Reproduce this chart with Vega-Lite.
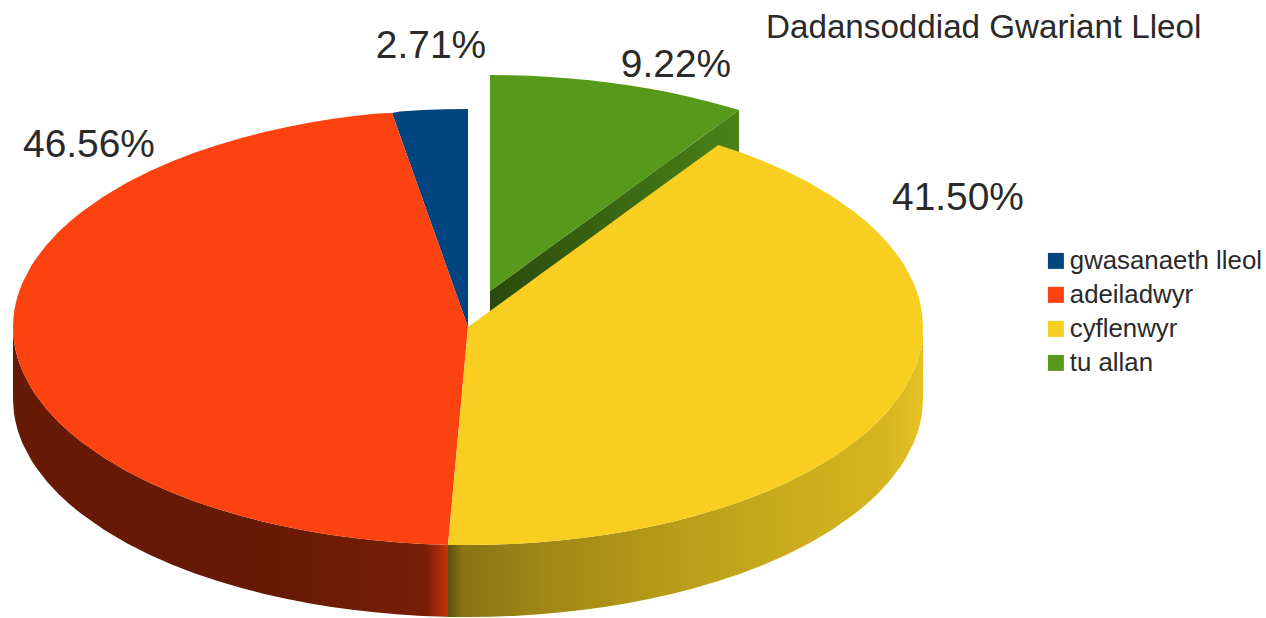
{
"$schema":"https://vega.github.io/schema/vega-lite/v6.json",
"width":1266,"height":618,"padding":0,"autosize":{"type":"none"},
"background":"white",
"title":{"text":"Dadansoddiad Gwariant Lleol","anchor":"start","frame":"group","dx":766,"dy":49,"fontSize":33.2,"fontWeight":"normal","font":"Liberation Sans","color":"#2a2a2a"},
"config":{"view":{"stroke":null}},
"datasets":{
"pie":[
{"slice":"adeiladwyr","part":"side","x":13,"y":327,"y2":399},
{"slice":"adeiladwyr","part":"side","x":13.9,"y":340.8,"y2":412.8},
{"slice":"adeiladwyr","part":"side","x":15.3,"y":348.8,"y2":420.8},
{"slice":"adeiladwyr","part":"side","x":17.5,"y":357.7,"y2":429.7},
{"slice":"adeiladwyr","part":"side","x":22.1,"y":370.4,"y2":442.4},
{"slice":"adeiladwyr","part":"side","x":31.2,"y":388,"y2":460},
{"slice":"adeiladwyr","part":"side","x":35.75,"y":395.1,"y2":467.1},
{"slice":"adeiladwyr","part":"side","x":47.1,"y":409.8,"y2":481.8},
{"slice":"adeiladwyr","part":"side","x":58.5,"y":422,"y2":494},
{"slice":"adeiladwyr","part":"side","x":69.9,"y":432.6,"y2":504.6},
{"slice":"adeiladwyr","part":"side","x":81.25,"y":441.8,"y2":513.8},
{"slice":"adeiladwyr","part":"side","x":104,"y":457.8,"y2":529.8},
{"slice":"adeiladwyr","part":"side","x":126.75,"y":471.2,"y2":543.2},
{"slice":"adeiladwyr","part":"side","x":149.5,"y":482.7,"y2":554.7},
{"slice":"adeiladwyr","part":"side","x":172.25,"y":492.7,"y2":564.7},
{"slice":"adeiladwyr","part":"side","x":195,"y":501.4,"y2":573.4},
{"slice":"adeiladwyr","part":"side","x":217.75,"y":509.1,"y2":581.1},
{"slice":"adeiladwyr","part":"side","x":240.5,"y":515.8,"y2":587.8},
{"slice":"adeiladwyr","part":"side","x":263.25,"y":521.7,"y2":593.7},
{"slice":"adeiladwyr","part":"side","x":286,"y":526.8,"y2":598.8},
{"slice":"adeiladwyr","part":"side","x":308.75,"y":531.2,"y2":603.2},
{"slice":"adeiladwyr","part":"side","x":331.5,"y":535,"y2":607},
{"slice":"adeiladwyr","part":"side","x":354.25,"y":538.1,"y2":610.1},
{"slice":"adeiladwyr","part":"side","x":377,"y":540.6,"y2":612.6},
{"slice":"adeiladwyr","part":"side","x":399.75,"y":542.5,"y2":614.5},
{"slice":"adeiladwyr","part":"side","x":422.5,"y":543.9,"y2":615.9},
{"slice":"adeiladwyr","part":"side","x":445.25,"y":544.7,"y2":616.7},
{"slice":"adeiladwyr","part":"side","x":448,"y":545,"y2":617},
{"slice":"cyflenwyr","part":"side","x":448,"y":545,"y2":617},
{"slice":"cyflenwyr","part":"side","x":468,"y":545,"y2":617},
{"slice":"cyflenwyr","part":"side","x":490.75,"y":544.7,"y2":616.7},
{"slice":"cyflenwyr","part":"side","x":513.5,"y":543.9,"y2":615.9},
{"slice":"cyflenwyr","part":"side","x":536.25,"y":542.5,"y2":614.5},
{"slice":"cyflenwyr","part":"side","x":559,"y":540.6,"y2":612.6},
{"slice":"cyflenwyr","part":"side","x":581.75,"y":538.1,"y2":610.1},
{"slice":"cyflenwyr","part":"side","x":604.5,"y":535,"y2":607},
{"slice":"cyflenwyr","part":"side","x":627.25,"y":531.2,"y2":603.2},
{"slice":"cyflenwyr","part":"side","x":650,"y":526.8,"y2":598.8},
{"slice":"cyflenwyr","part":"side","x":672.75,"y":521.7,"y2":593.7},
{"slice":"cyflenwyr","part":"side","x":695.5,"y":515.8,"y2":587.8},
{"slice":"cyflenwyr","part":"side","x":718.25,"y":509.1,"y2":581.1},
{"slice":"cyflenwyr","part":"side","x":741,"y":501.4,"y2":573.4},
{"slice":"cyflenwyr","part":"side","x":763.75,"y":492.7,"y2":564.7},
{"slice":"cyflenwyr","part":"side","x":786.5,"y":482.7,"y2":554.7},
{"slice":"cyflenwyr","part":"side","x":809.25,"y":471.2,"y2":543.2},
{"slice":"cyflenwyr","part":"side","x":832,"y":457.8,"y2":529.8},
{"slice":"cyflenwyr","part":"side","x":854.75,"y":441.8,"y2":513.8},
{"slice":"cyflenwyr","part":"side","x":866.1,"y":432.6,"y2":504.6},
{"slice":"cyflenwyr","part":"side","x":877.5,"y":422,"y2":494},
{"slice":"cyflenwyr","part":"side","x":888.9,"y":409.8,"y2":481.8},
{"slice":"cyflenwyr","part":"side","x":900.25,"y":395.1,"y2":467.1},
{"slice":"cyflenwyr","part":"side","x":904.8,"y":388,"y2":460},
{"slice":"cyflenwyr","part":"side","x":913.9,"y":370.4,"y2":442.4},
{"slice":"cyflenwyr","part":"side","x":918.5,"y":357.7,"y2":429.7},
{"slice":"cyflenwyr","part":"side","x":920.7,"y":348.8,"y2":420.8},
{"slice":"cyflenwyr","part":"side","x":922.1,"y":340.8,"y2":412.8},
{"slice":"cyflenwyr","part":"side","x":923,"y":327,"y2":399},
{"slice":"tu allan","part":"face","x":490,"y":291,"y2":363},
{"slice":"tu allan","part":"face","x":739,"y":110,"y2":182},
{"slice":"gwasanaeth lleol","part":"top","x":392,"y":113,"y2":113},
{"slice":"gwasanaeth lleol","part":"top","x":399.75,"y":111.5,"y2":134.8},
{"slice":"gwasanaeth lleol","part":"top","x":422.5,"y":110.1,"y2":198.9},
{"slice":"gwasanaeth lleol","part":"top","x":445.25,"y":109.3,"y2":262.9},
{"slice":"gwasanaeth lleol","part":"top","x":468,"y":109,"y2":327},
{"slice":"adeiladwyr","part":"top","x":13,"y":327,"y2":327},
{"slice":"adeiladwyr","part":"top","x":13.9,"y":313.2,"y2":340.8},
{"slice":"adeiladwyr","part":"top","x":15.3,"y":305.2,"y2":348.8},
{"slice":"adeiladwyr","part":"top","x":17.5,"y":296.3,"y2":357.7},
{"slice":"adeiladwyr","part":"top","x":22.1,"y":283.6,"y2":370.4},
{"slice":"adeiladwyr","part":"top","x":31.2,"y":266,"y2":388},
{"slice":"adeiladwyr","part":"top","x":35.75,"y":258.9,"y2":395.1},
{"slice":"adeiladwyr","part":"top","x":47.1,"y":244.2,"y2":409.8},
{"slice":"adeiladwyr","part":"top","x":58.5,"y":232,"y2":422},
{"slice":"adeiladwyr","part":"top","x":69.9,"y":221.4,"y2":432.6},
{"slice":"adeiladwyr","part":"top","x":81.25,"y":212.2,"y2":441.8},
{"slice":"adeiladwyr","part":"top","x":104,"y":196.2,"y2":457.8},
{"slice":"adeiladwyr","part":"top","x":126.75,"y":182.8,"y2":471.2},
{"slice":"adeiladwyr","part":"top","x":149.5,"y":171.3,"y2":482.7},
{"slice":"adeiladwyr","part":"top","x":172.25,"y":161.3,"y2":492.7},
{"slice":"adeiladwyr","part":"top","x":195,"y":152.6,"y2":501.4},
{"slice":"adeiladwyr","part":"top","x":217.75,"y":144.9,"y2":509.1},
{"slice":"adeiladwyr","part":"top","x":240.5,"y":138.2,"y2":515.8},
{"slice":"adeiladwyr","part":"top","x":263.25,"y":132.3,"y2":521.7},
{"slice":"adeiladwyr","part":"top","x":286,"y":127.2,"y2":526.8},
{"slice":"adeiladwyr","part":"top","x":308.75,"y":122.8,"y2":531.2},
{"slice":"adeiladwyr","part":"top","x":331.5,"y":119,"y2":535},
{"slice":"adeiladwyr","part":"top","x":354.25,"y":115.9,"y2":538.1},
{"slice":"adeiladwyr","part":"top","x":377,"y":113.4,"y2":540.6},
{"slice":"adeiladwyr","part":"top","x":392,"y":113,"y2":541.8},
{"slice":"adeiladwyr","part":"top","x":399.75,"y":134.8,"y2":542.5},
{"slice":"adeiladwyr","part":"top","x":422.5,"y":198.9,"y2":543.9},
{"slice":"adeiladwyr","part":"top","x":445.25,"y":262.9,"y2":544.7},
{"slice":"adeiladwyr","part":"top","x":448,"y":270.7,"y2":545},
{"slice":"adeiladwyr","part":"top","x":468,"y":327,"y2":327},
{"slice":"cyflenwyr","part":"top","x":448,"y":545,"y2":545},
{"slice":"cyflenwyr","part":"top","x":468,"y":327,"y2":545},
{"slice":"cyflenwyr","part":"top","x":490.75,"y":310.4,"y2":544.7},
{"slice":"cyflenwyr","part":"top","x":513.5,"y":293.9,"y2":543.9},
{"slice":"cyflenwyr","part":"top","x":536.25,"y":277.3,"y2":542.5},
{"slice":"cyflenwyr","part":"top","x":559,"y":260.8,"y2":540.6},
{"slice":"cyflenwyr","part":"top","x":581.75,"y":244.2,"y2":538.1},
{"slice":"cyflenwyr","part":"top","x":604.5,"y":227.7,"y2":535},
{"slice":"cyflenwyr","part":"top","x":627.25,"y":211.1,"y2":531.2},
{"slice":"cyflenwyr","part":"top","x":650,"y":194.6,"y2":526.8},
{"slice":"cyflenwyr","part":"top","x":672.75,"y":178,"y2":521.7},
{"slice":"cyflenwyr","part":"top","x":695.5,"y":161.4,"y2":515.8},
{"slice":"cyflenwyr","part":"top","x":718.25,"y":144.9,"y2":509.1},
{"slice":"cyflenwyr","part":"top","x":741,"y":152.6,"y2":501.4},
{"slice":"cyflenwyr","part":"top","x":763.75,"y":161.3,"y2":492.7},
{"slice":"cyflenwyr","part":"top","x":786.5,"y":171.3,"y2":482.7},
{"slice":"cyflenwyr","part":"top","x":809.25,"y":182.8,"y2":471.2},
{"slice":"cyflenwyr","part":"top","x":832,"y":196.2,"y2":457.8},
{"slice":"cyflenwyr","part":"top","x":854.75,"y":212.2,"y2":441.8},
{"slice":"cyflenwyr","part":"top","x":866.1,"y":221.4,"y2":432.6},
{"slice":"cyflenwyr","part":"top","x":877.5,"y":232,"y2":422},
{"slice":"cyflenwyr","part":"top","x":888.9,"y":244.2,"y2":409.8},
{"slice":"cyflenwyr","part":"top","x":900.25,"y":258.9,"y2":395.1},
{"slice":"cyflenwyr","part":"top","x":904.8,"y":266,"y2":388},
{"slice":"cyflenwyr","part":"top","x":913.9,"y":283.6,"y2":370.4},
{"slice":"cyflenwyr","part":"top","x":918.5,"y":296.3,"y2":357.7},
{"slice":"cyflenwyr","part":"top","x":920.7,"y":305.2,"y2":348.8},
{"slice":"cyflenwyr","part":"top","x":922.1,"y":313.2,"y2":340.8},
{"slice":"cyflenwyr","part":"top","x":923,"y":327,"y2":327},
{"slice":"tu allan","part":"top","x":490,"y":75,"y2":291},
{"slice":"tu allan","part":"top","x":510,"y":75.2,"y2":276.5},
{"slice":"tu allan","part":"top","x":530,"y":75.8,"y2":261.9},
{"slice":"tu allan","part":"top","x":550,"y":76.9,"y2":247.4},
{"slice":"tu allan","part":"top","x":570,"y":78.4,"y2":232.8},
{"slice":"tu allan","part":"top","x":590,"y":80.3,"y2":218.3},
{"slice":"tu allan","part":"top","x":610,"y":82.7,"y2":203.8},
{"slice":"tu allan","part":"top","x":630,"y":85.5,"y2":189.2},
{"slice":"tu allan","part":"top","x":650,"y":88.8,"y2":174.7},
{"slice":"tu allan","part":"top","x":670,"y":92.6,"y2":160.2},
{"slice":"tu allan","part":"top","x":690,"y":97,"y2":145.6},
{"slice":"tu allan","part":"top","x":710,"y":102,"y2":131.1},
{"slice":"tu allan","part":"top","x":725,"y":106,"y2":120.2},
{"slice":"tu allan","part":"top","x":739,"y":110,"y2":110}
],
"labels":[
{"label":"2.71%","x":431,"y":46},
{"label":"9.22%","x":676,"y":65},
{"label":"46.56%","x":89,"y":145},
{"label":"41.50%","x":958,"y":198}
]},
"layer":[
{"data":{"name":"pie"},"transform":[{"filter":"datum.part==='side' && datum.slice==='adeiladwyr'"}],
"mark":{"type":"area","orient":"vertical","color":{"gradient":"linear","x1":0,"y1":0,"x2":1,"y2":0,"stops":[{"offset":0,"color":"#661904"},{"offset":0.55,"color":"#661904"},{"offset":0.78,"color":"#6f1c05"},{"offset":0.95,"color":"#781f06"},{"offset":1,"color":"#c83210"}]}},
"encoding":{"x":{"field":"x","type":"quantitative","scale":{"domain":[0,1266],"nice":false,"zero":false},"axis":null},"y":{"field":"y","type":"quantitative","scale":{"domain":[618,0],"nice":false,"zero":false},"axis":null,"stack":null},"y2":{"field":"y2"}}},
{"data":{"name":"pie"},"transform":[{"filter":"datum.part==='side' && datum.slice==='cyflenwyr'"}],
"mark":{"type":"area","orient":"vertical","color":{"gradient":"linear","x1":0,"y1":0,"x2":1,"y2":0,"stops":[{"offset":0,"color":"#5e4f0e"},{"offset":0.03,"color":"#8a7414"},{"offset":0.2,"color":"#a08716"},{"offset":0.45,"color":"#b69a18"},{"offset":0.7,"color":"#c9aa1c"},{"offset":0.92,"color":"#d6b520"},{"offset":1,"color":"#e6c222"}]}},
"encoding":{"x":{"field":"x","type":"quantitative","axis":null},"y":{"field":"y","type":"quantitative","axis":null,"stack":null},"y2":{"field":"y2"}}},
{"data":{"name":"pie"},"transform":[{"filter":"datum.part==='face'"}],
"mark":{"type":"area","orient":"vertical","color":{"gradient":"linear","x1":0,"y1":0,"x2":1,"y2":0,"stops":[{"offset":0,"color":"#2a4a0c"},{"offset":1,"color":"#4a8318"}]}},
"encoding":{"x":{"field":"x","type":"quantitative","axis":null},"y":{"field":"y","type":"quantitative","axis":null,"stack":null},"y2":{"field":"y2"}}},
{"data":{"name":"pie"},"transform":[{"filter":"datum.part==='top'"}],
"mark":{"type":"area","orient":"vertical"},
"encoding":{"x":{"field":"x","type":"quantitative","axis":null},"y":{"field":"y","type":"quantitative","axis":null,"stack":null},"y2":{"field":"y2"},
"color":{"field":"slice","type":"nominal","scale":{"domain":["gwasanaeth lleol","adeiladwyr","cyflenwyr","tu allan"],"range":["#00457f","#fc420e","#f8cf20","#579a1b"]},
"legend":{"title":null,"orient":"none","legendX":1043,"legendY":248,"symbolType":"square","symbolSize":256,"symbolStrokeWidth":0,"labelFontSize":25.8,"labelFont":"Liberation Sans","labelColor":"#2a2a2a","labelOffset":1,"labelLimit":400,"rowPadding":7,"padding":0}}}},
{"data":{"name":"labels"},
"mark":{"type":"text","font":"Liberation Sans","fontSize":38.9,"color":"#2a2a2a","align":"center","baseline":"middle"},
"encoding":{"x":{"field":"x","type":"quantitative","axis":null},"y":{"field":"y","type":"quantitative","axis":null},"text":{"field":"label","type":"nominal"}}}
]
}
